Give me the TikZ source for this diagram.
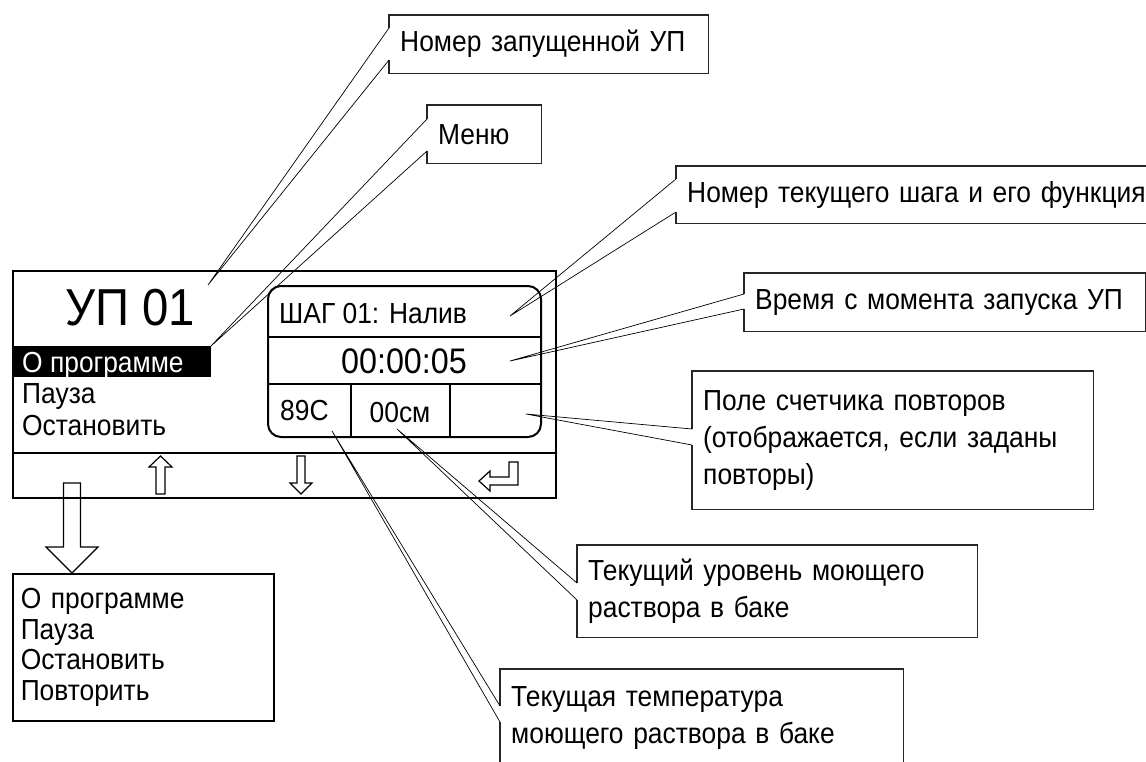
\documentclass[tikz,border=0pt]{standalone}
\usepackage{fontspec}
\setmainfont[FakeStretch=0.91]{Liberation Sans}
\usetikzlibrary{calc}
\newcommand{\calloutpath}[4]{%
  \draw[cline] ($(#1.north west)+(0,#2)$) -- (#1.north west) -- (#1.north east) -- (#1.south east) -- (#1.south west) -- ($(#1.north west)+(0,#3)$);
  \draw[ptr] ($(#1.north west)+(0,#2)$) -- (#4) -- ($(#1.north west)+(0,#3)$);
}
\begin{document}
\begin{tikzpicture}[x=1pt,y=-1pt,
  txt/.style={inner sep=0pt, font=\fontsize{29}{32}\selectfont},
  cbox/.style={anchor=north west, inner xsep=11pt, inner ysep=0pt, align=left, font=\fontsize{29}{37}\selectfont},
  cline/.style={draw=black!85, line width=1.2pt},
  ptr/.style={line width=0.7pt},
  frame/.style={line width=2pt},
  hollow/.style={draw, line width=1.2pt, fill=white, line join=miter}
]
\clip (0,0) rectangle (1146,761);
\fill[white] (0,0) rectangle (1146,761);

% big hollow arrow to the menu
\draw[hollow] (63.5,483) -- (80.5,483) -- (80.5,547) -- (98,547) -- (72,573) -- (46,547) -- (63.5,547) -- cycle;

% display
\node[draw, frame, anchor=north west, minimum width=543, minimum height=227, inner sep=0pt] (disp) at (12,270) {};
\draw[frame] (12,453) -- (555,453);
\node[txt, font=\fontsize{52}{56}\selectfont, anchor=base] (up) at (130,325) {УП 01};
\fill[black] (12,346) rectangle (211,377);
\node[txt, anchor=base west, text=white] (m1) at (22,372) {О программе};
\node[txt, anchor=base west] (m2) at (22,403) {Пауза};
\node[txt, anchor=base west] (m3) at (22,435) {Остановить};

% inner panel
\draw[frame, rounded corners=13pt] (268,286) rectangle (541,437);
\draw[frame] (268,337) -- (541,337);
\draw[frame] (268,384) -- (541,384);
\draw[frame] (351,384) -- (351,437);
\draw[frame] (450,384) -- (450,437);
\node[txt, anchor=base west] (step) at (279,323) {ШАГ 01: Налив};
\node[txt, font=\fontsize{35.5}{38}\selectfont, anchor=base] (time) at (404,373) {00:00:05};
\node[txt, anchor=base west] (temp) at (280,420) {89C};
\node[txt, anchor=base] (lvl) at (400,422) {00см};

% bottom bar arrows
\draw[hollow] (156,494) -- (156,467) -- (149,467) -- (160.5,456) -- (172,467) -- (165,467) -- (165,494) -- cycle;
\draw[hollow] (297,456) -- (305,456) -- (305,483) -- (312,483) -- (301,494) -- (290,483) -- (297,483) -- cycle;
\draw[hollow] (509,462) -- (518,462) -- (518,485) -- (490,485) -- (490,491) -- (479,481) -- (490,471) -- (490,477) -- (509,477) -- cycle;

% menu box
\node[draw, line width=1.5pt, anchor=north west, minimum width=261, minimum height=147,
      text width=245, inner xsep=8pt, inner ysep=0pt, align=left,
      font=\fontsize{29}{30.5}\selectfont] (menu) at (12,573)
      {О программе\\Пауза\\Остановить\\Повторить};

% callout tips
\coordinate (t1) at (208,285);
\coordinate (t2) at (211,346);
\coordinate (t3) at (510,316);
\coordinate (t4) at (510,361);
\coordinate (t5) at (526,414);
\coordinate (t6) at (397,429);
\coordinate (t7) at (332,431);

% callouts
\node[cbox, text width=297, minimum height=58] (c1) at (389,15) {Номер запущенной УП};
\node[cbox, text width=92, minimum height=58] (c2) at (427,105) {Меню};
\node[cbox, text width=478, minimum height=57] (c3) at (676,166) {Номер текущего шага и его функция};
\node[cbox, text width=379, minimum height=58] (c4) at (744,273) {Время с момента запуска УП};
\node[cbox, text width=379, minimum height=138] (c5) at (692,371) {Поле счетчика повторов\\(отображается, если заданы\\повторы)};
\node[cbox, text width=378, minimum height=92] (c6) at (577,545) {Текущий уровень моющего\\раствора в баке};
\node[cbox, text width=381, minimum height=98] (c7) at (500,669) {Текущая температура\\моющего раствора в баке};

\calloutpath{c1}{13}{45}{t1}
\calloutpath{c2}{14}{46}{t2}
\calloutpath{c3}{13}{46}{t3}
\calloutpath{c4}{21}{36}{t4}
\calloutpath{c5}{58}{74}{t5}
\calloutpath{c6}{38}{55}{t6}
\calloutpath{c7}{37}{53}{t7}
\end{tikzpicture}
\end{document}
